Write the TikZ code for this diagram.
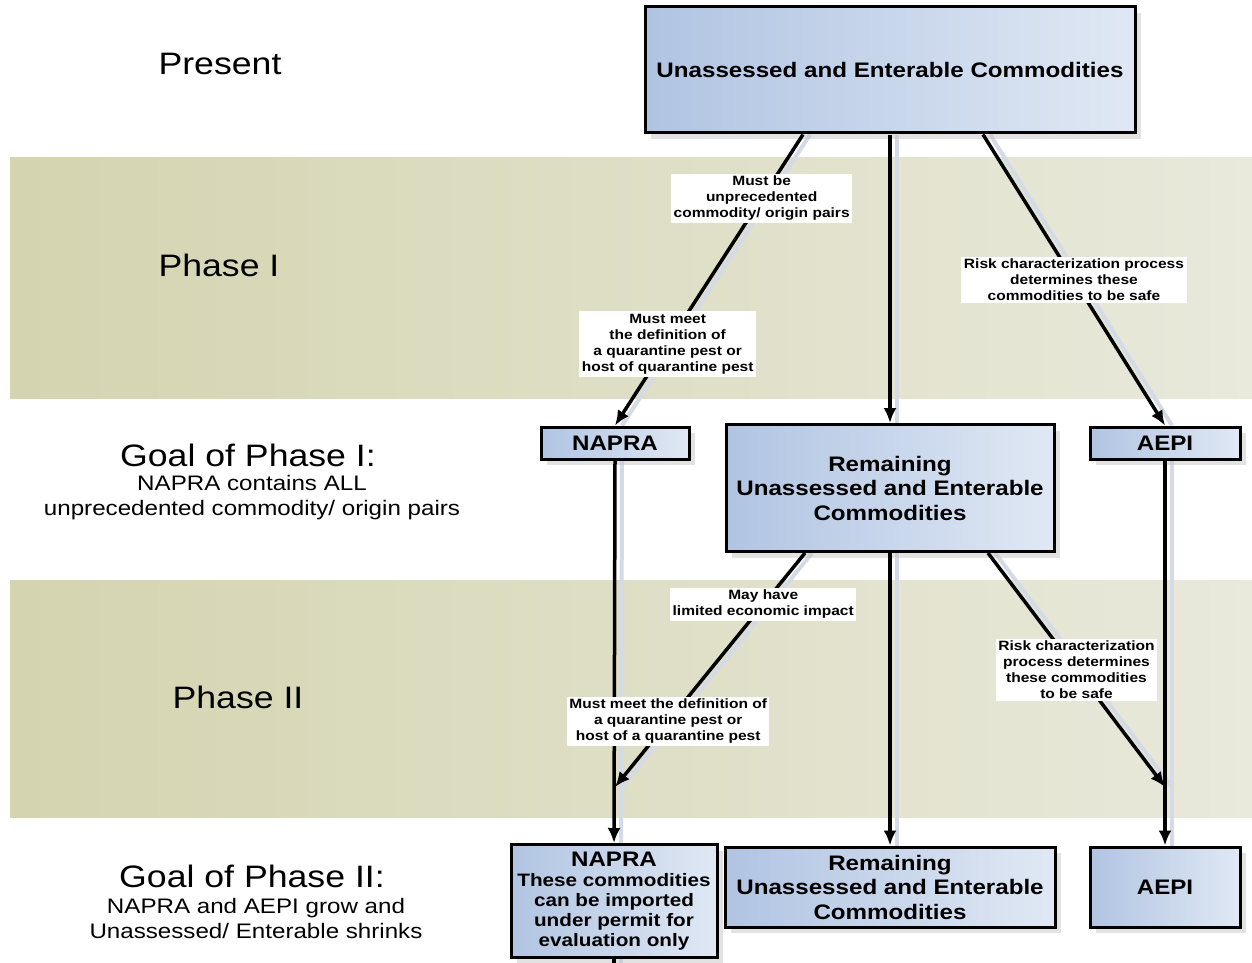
\documentclass[tikz,border=0pt]{standalone}
\usepackage{fontspec}
\setmainfont{Liberation Sans}[FakeStretch=1.15]
\usetikzlibrary{arrows.meta,shadows,calc}
\definecolor{bandL}{RGB}{212,212,176}
\definecolor{bandR}{RGB}{233,233,220}
\definecolor{boxL}{RGB}{176,196,226}
\definecolor{boxR}{RGB}{224,232,244}
\definecolor{lshadow}{RGB}{212,219,230}
\pgfdeclarelayer{bands}
\pgfdeclarelayer{shadowlayer}
\pgfsetlayers{bands,shadowlayer,main}
\begin{document}
\begin{tikzpicture}[x=1pt,y=-1pt,
 cbox/.style={draw=black, line width=3pt, left color=boxL, right color=boxR, inner sep=0pt, align=center,
   font=\bfseries\fontsize{21}{24.5}\selectfont,
   drop shadow={shadow xshift=6pt, shadow yshift=-6pt, fill=black!25, opacity=0.45}},
 elabel/.style={fill=white, inner sep=2.5pt, align=center, font=\bfseries\fontsize{13.5}{16}\selectfont},
 flow/.style={line width=3.5pt, -{Latex[length=15pt,width=13pt]}},
 plain/.style={line width=3.5pt},
 shade line/.style={line width=4pt, draw=lshadow},
 phase/.style={font=\fontsize{31}{36}\selectfont},
 sub/.style={font=\fontsize{21}{25}\selectfont, align=center},
]
\useasboundingbox (0,0) rectangle (1252,963);
\begin{pgfonlayer}{bands}
\fill[white] (0,0) rectangle (1252,963);
\shade[left color=bandL, right color=bandR] (10,157) rectangle (1252,398);
\shade[left color=bandL, right color=bandR] (10,580) rectangle (1252,817);
\end{pgfonlayer}

% left column
\node[phase] (present) at (220,64) {Present};
\node[phase] (ph1) at (219,265) {Phase I};
\node[phase] (g1) at (248,455) {Goal of Phase I:};
\node[sub] (g1s) at (252,498) {NAPRA contains ALL\\unprecedented commodity/ origin pairs};
\node[phase] (ph2) at (238,697) {Phase II};
\node[phase] (g2) at (252,876) {Goal of Phase II:};
\node[sub] (g2s) at (256,918) {NAPRA and AEPI grow and\\Unassessed/ Enterable shrinks};

% boxes
\node[cbox, minimum width=490pt, minimum height=126pt] (top) at (890,70) {Unassessed and Enterable Commodities};
\node[cbox, minimum width=148pt, minimum height=32pt] (napra1) at (615,443) {NAPRA};
\node[cbox, minimum width=328pt, minimum height=127pt] (rem1) at (890,488) {Remaining\\Unassessed and Enterable\\Commodities};
\node[cbox, minimum width=150pt, minimum height=32pt] (aepi1) at (1165,443) {AEPI};
\node[cbox, minimum width=206pt, minimum height=113pt, font=\bfseries\fontsize{18}{20}\selectfont] (napra2) at (614,901)
  {{\fontsize{21}{20}\selectfont NAPRA}\\These commodities\\can be imported\\under permit for\\evaluation only};
\node[cbox, minimum width=330pt, minimum height=80pt] (rem2) at (890,887) {Remaining\\Unassessed and Enterable\\Commodities};
\node[cbox, minimum width=150pt, minimum height=80pt] (aepi2) at (1165,887) {AEPI};

\coordinate (j1) at (615,787);
\coordinate (j2) at (1165,787);
\coordinate (nend) at (614,963);

% line shadows
\begin{pgfonlayer}{shadowlayer}
\begin{scope}[transform canvas={xshift=7pt}]
\draw[shade line] ([xshift=-87pt]top.south) -- (napra1.north);
\draw[shade line] (top.south) -- (rem1.north);
\draw[shade line] ([xshift=93pt]top.south) -- (aepi1.north);
\draw[shade line] (napra1.south) -- (napra2.north);
\draw[shade line] (aepi1.south) -- (aepi2.north);
\draw[shade line] (rem1.south) -- (rem2.north);
\draw[shade line] ([xshift=-85pt]rem1.south) -- (j1);
\draw[shade line] ([xshift=98pt]rem1.south) -- (j2);
\draw[shade line] (napra2.south) -- (nend);
\end{scope}
\end{pgfonlayer}

% connectors
\draw[flow] (napra1.south) -- (napra2.north);
\draw[flow] (aepi1.south) -- (aepi2.north);
\draw[flow] (rem1.south) -- (rem2.north);
\draw[plain] (napra2.south) -- (nend);
\draw[flow] (top.south) -- (rem1.north);
\draw[flow] ([xshift=-87pt]top.south) --
  node[elabel,pos=0.22]{Must be\\unprecedented\\commodity/ origin pairs}
  node[elabel,pos=0.72]{Must meet\\the definition of\\a quarantine pest or\\host of quarantine pest}
  (napra1.north);
\draw[flow] ([xshift=93pt]top.south) --
  node[elabel,pos=0.5]{Risk characterization process\\determines these\\commodities to be safe}
  (aepi1.north);
\draw[flow] ([xshift=-85pt]rem1.south) --
  node[elabel,pos=0.22]{May have\\limited economic impact}
  node[elabel,pos=0.72]{Must meet the definition of\\a quarantine pest or\\host of a quarantine pest}
  (j1);
\draw[flow] ([xshift=98pt]rem1.south) --
  node[elabel,pos=0.5]{Risk characterization\\process determines\\these commodities\\to be safe}
  (j2);
\end{tikzpicture}
\end{document}
